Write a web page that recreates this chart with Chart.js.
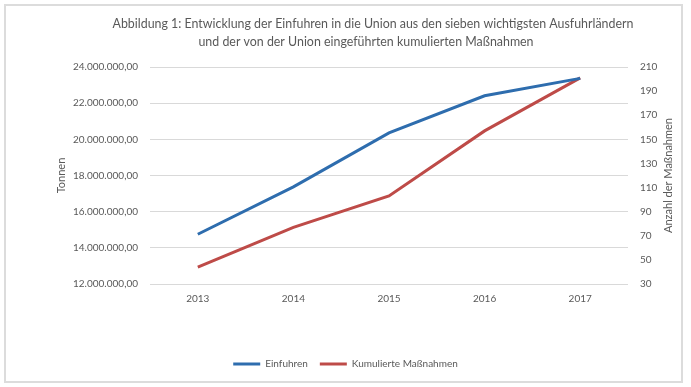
<!DOCTYPE html>
<html><head><meta charset="utf-8">
<script src="https://cdn.jsdelivr.net/npm/chart.js@4"></script>
<style>html,body{margin:0;padding:0;background:#fff}#wrap{position:relative;width:691px;height:387px}</style>
</head><body><div id="wrap"><canvas id="c" width="691" height="387"></canvas></div>
<script>
const years = ['2013', '2014', '2015', '2016', '2017'];
const einfuhren = [14750000, 17370000, 20360000, 22410000, 23370000];
const massnahmen = [44, 77, 103, 157, 201];
const seriesNames = ['Einfuhren', 'Kumulierte Maßnahmen'];
const titleLines = ['Abbildung 1: Entwicklung der Einfuhren in die Union aus den sieben wichtigsten Ausfuhrländern', 'und der von der Union eingeführten kumulierten Maßnahmen'];
const leftAxisTitle = 'Tonnen';
const rightAxisTitle = 'Anzahl der Maßnahmen';
const leftRange = [12000000, 24000000, 2000000];
const rightRange = [30, 210, 20];

const FONT = 'Lato, "Open Sans", sans-serif';
const TXT = '#595959';

function deNum(v) {
  const s = Math.round(v).toString().replace(/\B(?=(\d{3})+(?!\d))/g, '.');
  return s + ',00';
}

const framePlugin = {
  id: 'frame',
  beforeDraw(chart) {
    const ctx = chart.ctx;
    ctx.save();
    ctx.fillStyle = '#ffffff';
    ctx.fillRect(0, 0, chart.width, chart.height);
    ctx.strokeStyle = '#dcdcdc';
    ctx.lineWidth = 2;
    ctx.strokeRect(5, 5, 677, 377);
    ctx.restore();
  },
  afterDraw(chart) {
    const ctx = chart.ctx;
    ctx.save();
    ctx.fillStyle = TXT;
    ctx.font = '12.4px ' + FONT;
    ctx.textAlign = 'center';
    ctx.textBaseline = 'middle';
    ctx.fillText(titleLines[0], 373, 24);
    ctx.fillText(titleLines[1], 366, 42);
    const ca = chart.chartArea;
    ctx.font = '11px ' + FONT;
    ctx.translate(668, (ca.top + ca.bottom) / 2);
    ctx.rotate(-Math.PI / 2);
    ctx.fillText(rightAxisTitle, 0, 0);
    ctx.restore();
  }
};

new Chart(document.getElementById('c'), {
  type: 'line',
  data: {
    labels: years,
    datasets: [
      { label: seriesNames[0], data: einfuhren, yAxisID: 'y', borderColor: '#2E6DAE', backgroundColor: '#2E6DAE', borderWidth: 3, pointRadius: 0, tension: 0 },
      { label: seriesNames[1], data: massnahmen, yAxisID: 'y1', borderColor: '#BE4B48', backgroundColor: '#BE4B48', borderWidth: 3, pointRadius: 0, tension: 0 }
    ]
  },
  options: {
    responsive: false,
    animation: false,
    devicePixelRatio: 1,
    layout: { padding: { top: 67, left: 0, right: 0, bottom: 8 } },
    plugins: {
      title: { display: false },
      tooltip: { enabled: false },
      legend: {
        position: 'bottom',
        labels: {
          usePointStyle: true,
          pointStyle: 'line',
          pointStyleWidth: 27,
          boxHeight: 10,
          padding: 12,
          color: TXT,
          font: { family: FONT, size: 10 }
        }
      }
    },
    scales: {
      x: {
        offset: true,
        grid: { display: false, drawTicks: false },
        border: { display: false },
        ticks: { color: TXT, font: { family: FONT, size: 10 }, padding: 9, maxRotation: 0 },
        afterFit(s) { s.height = 63; }
      },
      y: {
        position: 'left',
        min: leftRange[0], max: leftRange[1],
        grid: { color: '#d9d9d9', lineWidth: 1, drawTicks: false },
        border: { display: false },
        ticks: { stepSize: leftRange[2], color: TXT, font: { family: FONT, size: 10 }, padding: 12, callback: (v) => deNum(v) },
        title: { display: true, text: leftAxisTitle, color: TXT, font: { family: FONT, size: 11 }, padding: { top: 55, bottom: 0 } },
        afterFit(s) { s.width = 150; }
      },
      y1: {
        position: 'right',
        min: rightRange[0], max: rightRange[1],
        grid: { drawOnChartArea: false, drawTicks: false },
        border: { display: false },
        ticks: { stepSize: rightRange[2], color: TXT, font: { family: FONT, size: 10 }, padding: 12 },
        title: { display: false, text: rightAxisTitle },
        afterFit(s) { s.width = 63; }
      }
    }
  },
  plugins: [framePlugin]
});
</script>
</body></html>
